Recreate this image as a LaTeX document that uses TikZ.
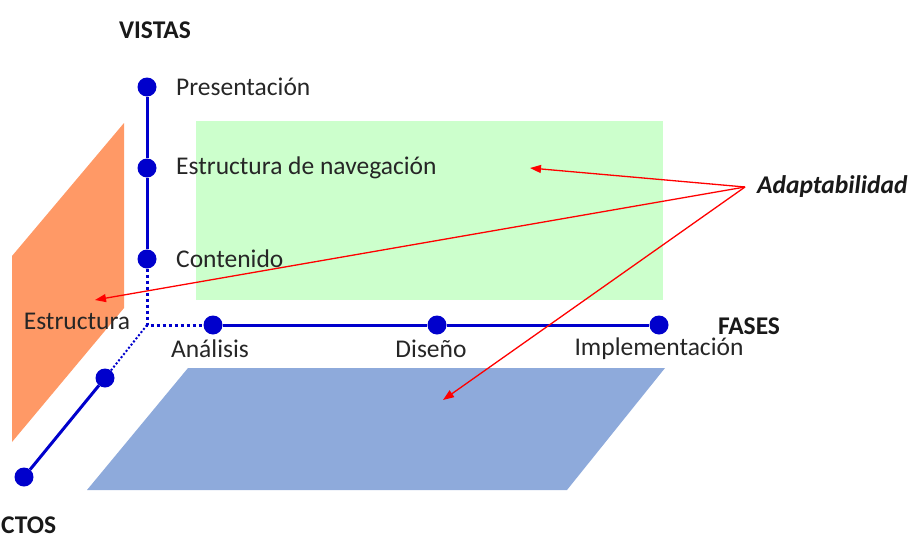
\documentclass[tikz,border=0pt]{standalone}
\usepackage{fontspec}
\setmainfont{Carlito}
\usetikzlibrary{arrows.meta}
\definecolor{axisblue}{RGB}{0,0,204}
\definecolor{planegreen}{RGB}{204,255,204}
\definecolor{planeorange}{RGB}{255,153,102}
\definecolor{planeblue}{RGB}{142,170,219}
\begin{document}
\begin{tikzpicture}[x=1pt,y=-1pt,
  dot/.style={circle,fill=axisblue,inner sep=0pt,minimum size=19pt},
  axis/.style={draw=axisblue,line width=3pt},
  axisdot/.style={draw=axisblue,line width=3pt,dash pattern=on 3pt off 3pt},
  axisdotthin/.style={draw=axisblue,line width=2pt,dash pattern=on 2pt off 2pt},
  lbl/.style={font=\fontsize{25.5}{29}\selectfont,inner sep=0pt,text=black!85},
  title/.style={font=\fontsize{25.5}{29}\selectfont\bfseries,inner sep=0pt,text=black!90},
  adapt/.style={red,line width=1.3pt,-{Triangle[length=11pt,width=8pt]}}
]
\useasboundingbox (0,0) rectangle (913,538);
% planes
\fill[planegreen] (196,121) rectangle (663,300);
\fill[planeorange] (12,256) -- (124,123) -- (124,308) -- (12,442) -- cycle;
\fill[planeblue] (188,368) -- (665,368) -- (567,490) -- (87,490) -- cycle;
% axis points
\coordinate (o) at (147,325);
\node[dot] (pres) at (147,87) {};
\node[dot] (nav) at (147,168) {};
\node[dot] (cont) at (147,259) {};
\node[dot] (ana) at (213,325) {};
\node[dot] (dis) at (437,325) {};
\node[dot] (imp) at (659,325) {};
\node[dot] (asp1) at (105,378) {};
\node[dot] (asp2) at (24,477) {};
% axes
\draw[axis] (pres) -- (nav) -- (cont);
\draw[axisdot] (cont) -- (o) -- (ana);
\draw[axis] (ana) -- (dis) -- (imp);
\draw[axisdotthin] (o) -- (asp1);
\draw[axis] (asp1) -- (asp2);
% labels
\node[title] (vistas) at (155,30) {VISTAS};
\node[title] (fases) at (749,326) {FASES};
\node[title,anchor=west] (aspectos) at (1,525) {CTOS};
\node[lbl,anchor=west] (lpres) at (176,87) {Presentación};
\node[lbl,anchor=west] (lnav) at (176,168) {Estructura de navegación};
\node[lbl,anchor=west] (lcont) at (176,259) {Contenido};
\node[lbl] (lana) at (210,349) {Análisis};
\node[lbl] (ldis) at (431,349) {Diseño};
\node[lbl] (limp) at (659,349) {Implementación};
\node[lbl] (lest) at (77,321) {Estructura};
\node[title,anchor=west,font=\fontsize{25.5}{29}\selectfont\bfseries\itshape] (adapt) at (757,187) {Adaptabilidad};
% arrows
\coordinate (src) at (745,187);
\coordinate (tg) at (530,168);
\coordinate (to) at (95,300);
\coordinate (tb) at (443,400);
\draw[adapt] (src) -- (tg);
\draw[adapt] (src) -- (to);
\draw[adapt] (src) -- (tb);
\end{tikzpicture}
\end{document}
